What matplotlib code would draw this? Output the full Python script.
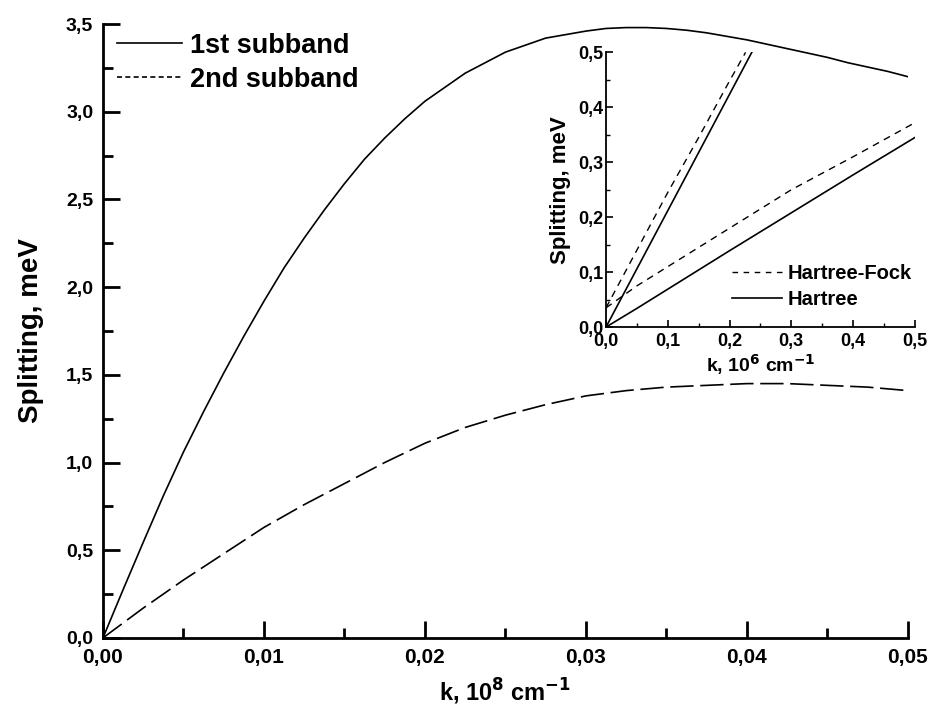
import matplotlib
matplotlib.use('Agg')
from matplotlib import pyplot as plt
from matplotlib.lines import Line2D
from matplotlib.ticker import MultipleLocator, FuncFormatter

plt.rcParams['font.family'] = ['Liberation Sans', 'DejaVu Sans']
plt.rcParams['font.weight'] = 'bold'

# main plot data: k in 10^8 cm^-1, splitting in meV
k_main = [0, 0.00125, 0.0025, 0.00375, 0.005, 0.00625, 0.0075, 0.00875, 0.01,
          0.01125, 0.0125, 0.01375, 0.015, 0.01625, 0.0175, 0.01875, 0.02,
          0.02125, 0.0225, 0.02375, 0.025, 0.02625, 0.0275, 0.02875, 0.03,
          0.03125, 0.0325, 0.03375, 0.035, 0.03625, 0.0375, 0.03875, 0.04,
          0.04125, 0.0425, 0.04375, 0.045, 0.04625, 0.0475, 0.04875, 0.05]
sub1 = [0, 0.275, 0.545, 0.81, 1.06, 1.29, 1.51, 1.72, 1.92,
        2.11, 2.28, 2.44, 2.59, 2.73, 2.85, 2.96, 3.06,
        3.14, 3.22, 3.28, 3.34, 3.38, 3.42, 3.44, 3.46,
        3.475, 3.48, 3.48, 3.475, 3.465, 3.45, 3.43, 3.41,
        3.385, 3.36, 3.335, 3.31, 3.28, 3.255, 3.23, 3.20]
sub2 = [0, 0.085, 0.17, 0.25, 0.33, 0.405, 0.48, 0.555, 0.63,
        0.695, 0.76, 0.82, 0.88, 0.94, 1.00, 1.055, 1.11,
        1.155, 1.20, 1.235, 1.27, 1.30, 1.33, 1.355, 1.38,
        1.395, 1.41, 1.42, 1.43, 1.435, 1.44, 1.445, 1.45,
        1.45, 1.45, 1.445, 1.44, 1.435, 1.43, 1.42, 1.41]

# inset data: k in 10^6 cm^-1
k_hf_steep = [0, 0.05, 0.1, 0.15, 0.2, 0.226]
hf_steep = [0.035, 0.14, 0.245, 0.345, 0.448, 0.5]
k_h_steep = [0, 0.236]
h_steep = [0, 0.5]
k_low = [0, 0.05, 0.1, 0.2, 0.3, 0.4, 0.5]
hf_low = [0.035, 0.075, 0.11, 0.18, 0.25, 0.31, 0.372]
h_low = [0, 0.034, 0.069, 0.139, 0.208, 0.277, 0.345]

comma = FuncFormatter(lambda v, p: ('%.1f' % v).replace('.', ','))
comma2 = FuncFormatter(lambda v, p: ('%.2f' % v).replace('.', ','))

fig = plt.figure(figsize=(9.36, 7.08), dpi=100)
ax = fig.add_axes([0.110, 0.099, 0.860, 0.867])

ax.plot(k_main, sub1, color='k', lw=1.2)
ax.plot(k_main, sub2, color='k', lw=1.2, linestyle=(0, (14, 4)))

ax.set_xlim(0, 0.05)
ax.set_ylim(0, 3.5)
ax.xaxis.set_major_locator(MultipleLocator(0.01))
ax.xaxis.set_minor_locator(MultipleLocator(0.005))
ax.yaxis.set_major_locator(MultipleLocator(0.5))
ax.yaxis.set_minor_locator(MultipleLocator(0.25))
ax.xaxis.set_major_formatter(comma2)
ax.yaxis.set_major_formatter(comma)
for s in ['top', 'right']:
    ax.spines[s].set_visible(False)
for s in ['left', 'bottom']:
    ax.spines[s].set_linewidth(2)
ax.tick_params(which='major', direction='in', length=12, width=2, labelsize=14, pad=7)
ax.tick_params(which='minor', direction='in', length=7, width=2)
for lab in ax.get_xticklabels():
    lab.set_family(['Liberation Sans Narrow', 'Liberation Sans'])
    lab.set_fontsize(15)
ax.set_ylabel('Splitting, meV', fontsize=20, fontweight='bold', labelpad=16)
ax.set_xlabel('k, 10$^{8}$ cm$^{-1}$', fontsize=17, fontweight='bold', labelpad=7,
              family=['Liberation Sans Narrow', 'Liberation Sans'])

h1 = Line2D([], [], color='k', lw=1.2)
h2 = Line2D([], [], color='k', lw=1.2, linestyle=(0, (3, 2)))
ax.legend([h1, h2], ['1st subband', '2nd subband'], loc='upper left',
          bbox_to_anchor=(0.0, 1.008), frameon=False, fontsize=19.5,
          handlelength=2.4, handletextpad=0.3, labelspacing=0.3, borderaxespad=0.1)

# inset
ins = fig.add_axes([0.6474, 0.538, 0.330, 0.388])
ins.plot(k_hf_steep, hf_steep, color='k', lw=1, linestyle=(0, (5, 4)))
ins.plot(k_h_steep, h_steep, color='k', lw=1.2)
ins.plot(k_low, hf_low, color='k', lw=1, linestyle=(0, (5, 4)))
ins.plot(k_low, h_low, color='k', lw=1.2)
ins.set_xlim(0, 0.5)
ins.set_ylim(0, 0.5)
ins.patch.set_alpha(0)
ins.xaxis.set_major_locator(MultipleLocator(0.1))
ins.xaxis.set_minor_locator(MultipleLocator(0.05))
ins.yaxis.set_major_locator(MultipleLocator(0.1))
ins.yaxis.set_minor_locator(MultipleLocator(0.05))
ins.xaxis.set_major_formatter(comma)
ins.yaxis.set_major_formatter(comma)
for s in ['top', 'right']:
    ins.spines[s].set_visible(False)
for s in ['left', 'bottom']:
    ins.spines[s].set_linewidth(1.3)
ins.tick_params(which='major', direction='in', length=5, width=1.2, labelsize=13, pad=2)
ins.tick_params(axis='x', which='major', pad=4)
ins.tick_params(which='minor', direction='in', length=3, width=1)
ins.set_ylabel('Splitting, meV', fontsize=16, fontweight='bold', labelpad=5)
ins.set_xlabel('k, 10$^{6}$ cm$^{-1}$', fontsize=14, fontweight='bold', labelpad=2)

g1 = Line2D([], [], color='k', lw=1, linestyle=(0, (4, 4)))
g2 = Line2D([], [], color='k', lw=1.2)
ins.legend([g1, g2], ['Hartree-Fock', 'Hartree'], loc='lower right',
           bbox_to_anchor=(1.05, 0.0), frameon=False, fontsize=14.5,
           handlelength=2.5, handletextpad=0.3, labelspacing=0.35)

fig.savefig('out.png', dpi=100)
